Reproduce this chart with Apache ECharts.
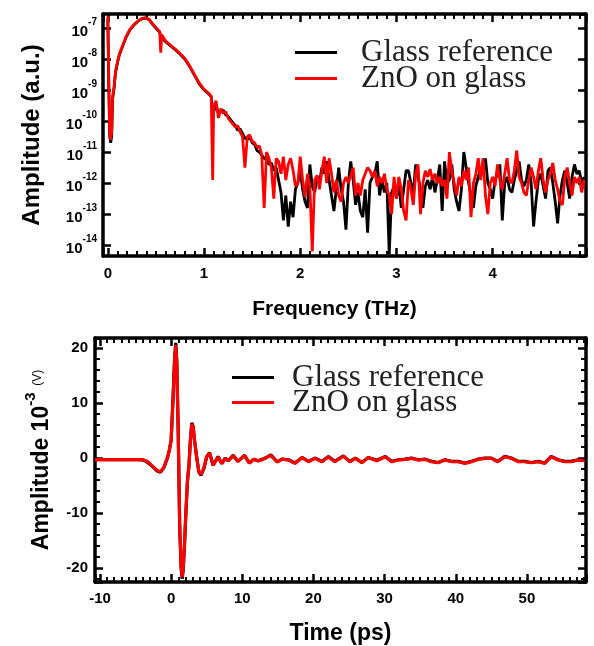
<!DOCTYPE html>
<html>
<head>
<meta charset="utf-8">
<script src="https://cdn.jsdelivr.net/npm/echarts@6/dist/echarts.min.js"></script>
<style>html,body{margin:0;padding:0;background:#fff}#chart{width:594px;height:646px}</style>
</head>
<body>
<div id="chart"></div>
<script>
// ---------- Data ----------
const seriesNames = ['Glass reference', 'ZnO on glass'];

// Top panel: frequency (THz) and log10 of amplitude (a.u.)
const freqTHz = [
  0, 0.01, 0.02, 0.03, 0.04, 0.05, 0.065, 0.08, 0.1, 0.12,
  0.15, 0.19, 0.23, 0.27, 0.31, 0.35, 0.39, 0.43, 0.47, 0.51,
  0.54, 0.55, 0.56, 0.6, 0.65, 0.7, 0.75, 0.8, 0.85, 0.9,
  0.95, 1.0, 1.04, 1.075, 1.09,
  1.1, 1.125, 1.15, 1.175, 1.2, 1.225, 1.25, 1.275, 1.3, 1.325,
  1.35, 1.375, 1.4, 1.425, 1.45, 1.475, 1.5, 1.525, 1.55, 1.575,
  1.6, 1.625, 1.65, 1.675, 1.7, 1.725, 1.75, 1.775, 1.8, 1.825,
  1.85, 1.875, 1.9, 1.925, 1.95, 1.975, 2.0, 2.025, 2.05, 2.075,
  2.1, 2.125, 2.15, 2.175, 2.2, 2.225, 2.25, 2.275, 2.3, 2.325,
  2.35, 2.375, 2.4, 2.425, 2.45, 2.475, 2.5, 2.525, 2.55, 2.575,
  2.6, 2.625, 2.65, 2.675, 2.7, 2.725, 2.75, 2.775, 2.8, 2.825,
  2.85, 2.875, 2.9, 2.925, 2.95, 2.975, 3.0, 3.025, 3.05, 3.075,
  3.1, 3.125, 3.15, 3.175, 3.2, 3.225, 3.25, 3.275, 3.3, 3.325,
  3.35, 3.375, 3.4, 3.425, 3.45, 3.475, 3.5, 3.525, 3.55, 3.575,
  3.6, 3.625, 3.65, 3.675, 3.7, 3.725, 3.75, 3.775, 3.8, 3.825,
  3.85, 3.875, 3.9, 3.925, 3.95, 3.975, 4.0, 4.025, 4.05, 4.075,
  4.1, 4.125, 4.15, 4.175, 4.2, 4.225, 4.25, 4.275, 4.3, 4.325,
  4.35, 4.375, 4.4, 4.425, 4.45, 4.475, 4.5, 4.525, 4.55, 4.575,
  4.6, 4.625, 4.65, 4.675, 4.7, 4.725, 4.75, 4.775, 4.8, 4.825,
  4.85, 4.875, 4.9, 4.925, 4.95
];
const glassLogAmp = [
  -6.7, -8.9, -10.5, -10.7, -10.5, -9.3, -8.95, -8.45, -8.12, -7.87,
  -7.62, -7.3, -7.06, -6.91, -6.79, -6.71, -6.68, -6.73, -6.9, -7.04,
  -7.14, -7.3, -7.24, -7.44, -7.57, -7.7, -7.84, -8.0, -8.24, -8.52,
  -8.8, -9.0, -9.1, -9.22, -9.8,
  -9.7, -9.5, -9.75, -9.7, -9.65, -9.8, -9.85, -9.95, -10.05, -10.15,
  -10.3, -10.25, -10.4, -10.55, -10.6, -10.5, -10.7, -10.75, -10.95, -11.0,
  -11.1, -11.2, -11.25, -11.4, -11.35, -11.6, -11.5, -11.9, -12.3, -13.2,
  -12.4, -13.4, -12.6, -13.1, -12.2, -12.0, -11.6, -12.2, -12.6, -12.8,
  -11.4, -12.1, -12.3, -11.8, -12.0, -11.5, -11.7, -11.3, -11.9, -12.4,
  -12.9, -12.2, -11.5, -12.2, -12.6, -13.5, -12.0, -11.3, -11.9, -12.7,
  -12.3, -12.9, -13.1, -12.2, -13.6, -12.0, -11.8, -11.7, -11.3, -12.4,
  -11.9, -12.3, -12.0, -14.3, -12.3, -12.1, -12.5, -12.0, -12.8, -12.2,
  -11.6, -11.6, -12.0, -12.3, -11.4, -11.8, -12.2, -12.8, -12.1, -11.9,
  -12.2, -11.8, -12.3, -11.9, -11.4, -12.9, -11.3, -12.0, -11.9, -11.4,
  -12.2, -12.6, -12.9, -12.2, -11.0, -11.5, -12.0, -12.4, -12.8, -12.1,
  -11.8, -11.5, -11.6, -11.2, -12.0, -12.2, -12.5, -11.9, -11.7, -11.4,
  -13.2, -12.0, -11.8, -12.2, -12.3, -11.9, -11.6, -11.3, -11.9, -12.1,
  -11.9, -11.4, -12.0, -13.4, -12.6, -11.9, -11.7, -12.1, -12.5, -11.6,
  -11.5, -12.0, -12.6, -13.3, -12.4, -11.9, -11.6, -12.0, -12.5, -11.8,
  -11.4, -11.7, -11.6, -12.0, -11.8
];
const znoLogAmp = [
  -6.62, -8.6, -10.3, -10.6, -10.35, -9.2, -8.9, -8.4, -8.1, -7.85,
  -7.6, -7.28, -7.05, -6.9, -6.78, -6.7, -6.67, -6.72, -6.88, -7.02,
  -7.12, -7.8, -7.22, -7.42, -7.55, -7.68, -7.82, -7.98, -8.22, -8.5,
  -8.77, -8.98, -9.08, -9.2, -11.9,
  -9.5, -9.35, -9.9, -9.6, -9.75, -9.7, -9.9, -10.0, -10.1, -10.2,
  -10.15, -10.35, -10.5, -11.5, -10.5, -10.45, -10.65, -10.7, -10.85, -10.8,
  -11.1, -12.8, -11.0, -11.2, -11.5, -12.5, -11.2, -11.3, -11.7, -11.15,
  -11.9, -11.4, -11.2, -11.58, -12.1, -12.0, -11.15, -11.9, -12.44, -11.7,
  -12.1, -14.2, -11.9, -11.75, -12.2, -11.6, -11.15, -12.0, -11.2, -11.7,
  -12.3, -11.9, -12.4, -12.6, -12.0, -11.8, -12.0, -11.75, -11.5, -12.4,
  -12.0, -12.4, -11.9, -11.7, -11.5, -11.6, -11.8, -11.6, -12.1, -11.8,
  -12.0, -11.7, -12.2, -12.4, -13.0, -11.8, -12.5, -11.8, -12.2, -12.9,
  -13.2, -11.9, -12.2, -12.7, -11.7, -11.4, -13.0, -12.0, -11.6, -11.8,
  -11.55, -11.9, -11.7, -12.0, -11.8, -12.1, -11.9, -12.5, -11.0, -11.6,
  -12.0, -12.4, -11.8, -12.1, -11.6, -11.9, -11.5, -13.1, -12.0, -11.7,
  -11.2, -11.9, -11.2, -12.4, -13.0, -12.0, -11.8, -12.1, -11.4, -11.9,
  -12.2, -11.7, -11.2, -11.9, -12.0, -11.6, -10.95, -11.8, -12.0, -12.3,
  -12.4, -11.9, -11.5, -11.8, -12.2, -11.6, -11.2, -11.9, -12.3, -11.9,
  -11.7, -11.35, -11.9, -12.2, -12.6, -12.7, -11.8, -11.5, -12.0, -12.4,
  -11.8, -12.0, -11.8, -12.3, -11.9
];

// Bottom panel: time (ps) and signal (10^-3 V)
const timePs = [
  -10.7, -9, -7, -5, -4, -3.5, -3, -2.5, -2, -1.5,
  -1, -0.5, -0.25, 0, 0.25, 0.5, 0.65, 0.8, 1.0, 1.2,
  1.4, 1.55, 1.7, 1.9, 2.1, 2.3, 2.5, 2.7, 2.9, 3.1,
  3.3, 3.6, 3.9, 4.2, 4.6, 5.0, 5.4, 5.9, 6.6, 7.1,
  7.6, 8.0, 8.7, 9.4, 10.3, 11.0, 11.6, 12.2, 12.8, 13.4,
  14.0, 14.9, 15.6, 16.5, 17.4, 18.4, 19.3, 20.2, 21.2, 22.1,
  23.0, 24.2, 25.1, 25.9, 26.8, 27.7, 28.9, 30.1, 31.0, 31.9,
  32.9, 33.8, 34.7, 35.7, 36.6, 37.5, 38.5, 39.4, 40.3, 41.3,
  42.2, 43.1, 44.1, 45.0, 45.9, 46.9, 47.8, 48.8, 49.7, 50.6,
  51.6, 52.5, 53.4, 54.4, 55.3, 56.2, 57.2, 58.1
];
const glassSignal = [
  -0.3, -0.3, -0.3, -0.3, -0.35, -0.6, -1.1, -1.7, -2.3, -2.6,
  -1.7, 0.1, 1.4, 3.3, 10.5, 18.5, 20.9, 17.5, 4.5, -12.5,
  -20, -21.9, -20.3, -15.2, -9.2, -4.1, -1.4, 3.2, 6.4, 5.7,
  3.1, 0.1, -2.6, -3.1, -1.9, 0.2, 1.0, -1.3, 0.3, -1.0,
  0.0, -0.5, 0.5, -0.6, 0.5, -0.9, -0.2, -0.5, -0.2, 0.1,
  0.6, -0.7, -0.2, -0.3, -0.9, 0.1, -0.6, 0.0, -0.6, 0.3,
  -0.6, 0.4, -0.6, 0.0, -0.8, 0.1, -0.4, 0.3, -0.6, -0.3,
  -0.2, 0.0, -0.3, -0.2, -0.6, -0.8, -0.3, -0.6, -0.6, -0.9,
  -0.6, -0.2, 0.0, 0.0, -0.6, 0.3, 0.0, -0.6, -0.6, -0.8,
  -0.6, -0.9, 0.3, -0.3, -0.6, -0.6, -0.3, -0.4
];
const znoSignal = [
  -0.3, -0.3, -0.3, -0.3, -0.3, -0.5, -1.0, -1.6, -2.2, -2.5,
  -1.6, 0.2, 1.5, 3.2, 10, 18, 20.5, 17, 4, -12,
  -19.5, -21.6, -20, -15, -9, -4, -1.5, 3, 6.2, 5.5,
  3, 0, -2.5, -3.0, -1.8, 0.3, 0.9, -1.3, 0.2, -1.0,
  -0.05, -0.5, 0.4, -0.6, 0.5, -0.9, -0.2, -0.5, -0.3, 0.1,
  0.5, -0.7, -0.2, -0.36, -0.97, 0.12, -0.67, -0.06, -0.67, 0.24,
  -0.67, 0.36, -0.67, -0.06, -0.85, 0.12, -0.48, 0.24, -0.67, -0.36,
  -0.24, -0.06, -0.36, -0.24, -0.67, -0.85, -0.36, -0.67, -0.67, -0.97,
  -0.67, -0.24, -0.06, -0.06, -0.67, 0.24, -0.06, -0.67, -0.67, -0.85,
  -0.67, -0.97, 0.24, -0.36, -0.67, -0.67, -0.36, -0.48
];

// ---------- Chart ----------
const SANS = '"Liberation Sans", Arial, sans-serif';
const SERIF = '"Liberation Serif", "Times New Roman", serif';
const pairsLog = (xs, es) => xs.map((x, i) => [x, Math.pow(10, es[i])]);
const pairs = (xs, ys) => xs.map((x, i) => [x, ys[i]]);

const lineAx = { show: true, onZero: false, lineStyle: { color: '#000', width: 3.5 } };
const tickAx = { show: true, inside: true, length: 8, lineStyle: { color: '#000', width: 2.5 } };
const minorAx = (n) => ({ show: true, splitNumber: n, length: 5, lineStyle: { color: '#000', width: 2 } });
const noSplit = { show: false };

const topXMin = -0.05, topXMax = 4.97;
const topYMin = Math.pow(10, -14.35), topYMax = Math.pow(10, -6.55);
const botXMin = -10.7, botXMax = 58.3;
const botYMin = -22.5, botYMax = 21.8;

const chart = echarts.init(document.getElementById('chart'), null, { renderer: 'canvas' });
chart.setOption({
  backgroundColor: '#fff',
  animation: false,
  grid: [
    { left: 103, top: 14, width: 483, height: 242 },
    { left: 95, top: 338, width: 491, height: 244 }
  ],
  legend: [
    {
      data: seriesNames, orient: 'vertical', left: 290, top: 32,
      icon: 'rect', itemWidth: 42, itemHeight: 3, itemGap: -5,
      textStyle: { fontFamily: SERIF, fontSize: 31, color: '#222', padding: [0, 0, 0, 19] }
    },
    {
      data: seriesNames, orient: 'vertical', left: 227, top: 357,
      icon: 'rect', itemWidth: 42, itemHeight: 3, itemGap: -6,
      textStyle: { fontFamily: SERIF, fontSize: 31, color: '#222', padding: [0, 0, 0, 13] }
    }
  ],
  xAxis: [
    {
      type: 'value', gridIndex: 0, position: 'bottom', min: topXMin, max: topXMax, splitNumber: 5,
      axisLine: lineAx, axisTick: tickAx, minorTick: minorAx(10), splitLine: noSplit,
      axisLabel: { show: true, margin: 10, showMinLabel: false, showMaxLabel: false,
        fontFamily: SANS, fontWeight: 'bold', fontSize: 15, color: '#000' },
      name: 'Frequency (THz)', nameLocation: 'middle', nameGap: 43,
      nameTextStyle: { fontFamily: SANS, fontWeight: 'bold', fontSize: 21, color: '#000', padding: [0, 20, 0, 0] }
    },
    {
      type: 'value', gridIndex: 0, position: 'top', min: topXMin, max: topXMax, splitNumber: 5,
      axisLine: lineAx, axisTick: tickAx, minorTick: minorAx(10), splitLine: noSplit,
      axisLabel: { show: false }
    },
    {
      type: 'value', gridIndex: 1, position: 'bottom', min: botXMin, max: botXMax, splitNumber: 7,
      axisLine: lineAx, axisTick: tickAx, minorTick: minorAx(10), splitLine: noSplit,
      axisLabel: { show: true, margin: 9, showMinLabel: false, showMaxLabel: false,
        fontFamily: SANS, fontWeight: 'bold', fontSize: 15, color: '#000' },
      name: 'Time (ps)', nameLocation: 'middle', nameGap: 40,
      nameTextStyle: { fontFamily: SANS, fontWeight: 'bold', fontSize: 23, color: '#000' }
    },
    {
      type: 'value', gridIndex: 1, position: 'top', min: botXMin, max: botXMax, splitNumber: 7,
      axisLine: lineAx, axisTick: tickAx, minorTick: minorAx(10), splitLine: noSplit,
      axisLabel: { show: false }
    }
  ],
  yAxis: [
    {
      type: 'log', logBase: 10, gridIndex: 0, position: 'left', min: topYMin, max: topYMax,
      axisLine: lineAx, axisTick: tickAx, splitLine: noSplit,
      axisLabel: {
        show: true, margin: 6, showMinLabel: false, showMaxLabel: false,
        formatter: (v) => '{b|10}{s|' + Math.round(Math.log10(v)) + '}',
        rich: {
          b: { fontFamily: SANS, fontWeight: 'bold', fontSize: 15, color: '#000', lineHeight: 22, verticalAlign: 'bottom' },
          s: { fontFamily: SANS, fontWeight: 'bold', fontSize: 10, color: '#000', lineHeight: 22, verticalAlign: 'top' }
        }
      },
      name: 'Amplitude (a.u.)', nameLocation: 'middle', nameGap: 59, nameRotate: 90,
      nameTextStyle: { fontFamily: SANS, fontWeight: 'bold', fontSize: 24, color: '#000' }
    },
    {
      type: 'log', logBase: 10, gridIndex: 0, position: 'right', min: topYMin, max: topYMax,
      axisLine: lineAx, axisTick: tickAx, splitLine: noSplit, axisLabel: { show: false }
    },
    {
      type: 'value', gridIndex: 1, position: 'left', min: botYMin, max: botYMax, splitNumber: 4,
      axisLine: lineAx, axisTick: tickAx, minorTick: minorAx(5), splitLine: noSplit,
      axisLabel: { show: true, margin: 7, showMinLabel: false, showMaxLabel: false,
        fontFamily: SANS, fontWeight: 'bold', fontSize: 15, color: '#000' },
      name: '{a|Amplitude 10}{s|-3}{v|  (V)}', nameLocation: 'middle', nameGap: 42, nameRotate: 90,
      nameTextStyle: {
        rich: {
          a: { fontFamily: SANS, fontWeight: 'bold', fontSize: 23, color: '#000', lineHeight: 30, verticalAlign: 'bottom' },
          s: { fontFamily: SANS, fontWeight: 'bold', fontSize: 15, color: '#000', lineHeight: 30, verticalAlign: 'top' },
          v: { fontFamily: SANS, fontSize: 12, color: '#000', lineHeight: 30, verticalAlign: 'middle' }
        }
      }
    },
    {
      type: 'value', gridIndex: 1, position: 'right', min: botYMin, max: botYMax, splitNumber: 4,
      axisLine: lineAx, axisTick: tickAx, minorTick: minorAx(5), splitLine: noSplit, axisLabel: { show: false }
    }
  ],
  series: [
    { name: seriesNames[0], type: 'line', xAxisIndex: 0, yAxisIndex: 0, showSymbol: false, color: '#000',
      lineStyle: { width: 2.8, color: '#000' }, data: pairsLog(freqTHz, glassLogAmp) },
    { name: seriesNames[1], type: 'line', xAxisIndex: 0, yAxisIndex: 0, showSymbol: false, color: '#ff0000',
      lineStyle: { width: 2.8, color: '#ff0000' }, data: pairsLog(freqTHz, znoLogAmp) },
    { name: seriesNames[0], type: 'line', xAxisIndex: 2, yAxisIndex: 2, showSymbol: false, color: '#000',
      lineStyle: { width: 3.2, color: '#000' }, data: pairs(timePs, glassSignal) },
    { name: seriesNames[1], type: 'line', xAxisIndex: 2, yAxisIndex: 2, showSymbol: false, color: '#ff0000',
      lineStyle: { width: 3.2, color: '#ff0000' }, data: pairs(timePs, znoSignal) }
  ]
});
</script>
</body>
</html>
